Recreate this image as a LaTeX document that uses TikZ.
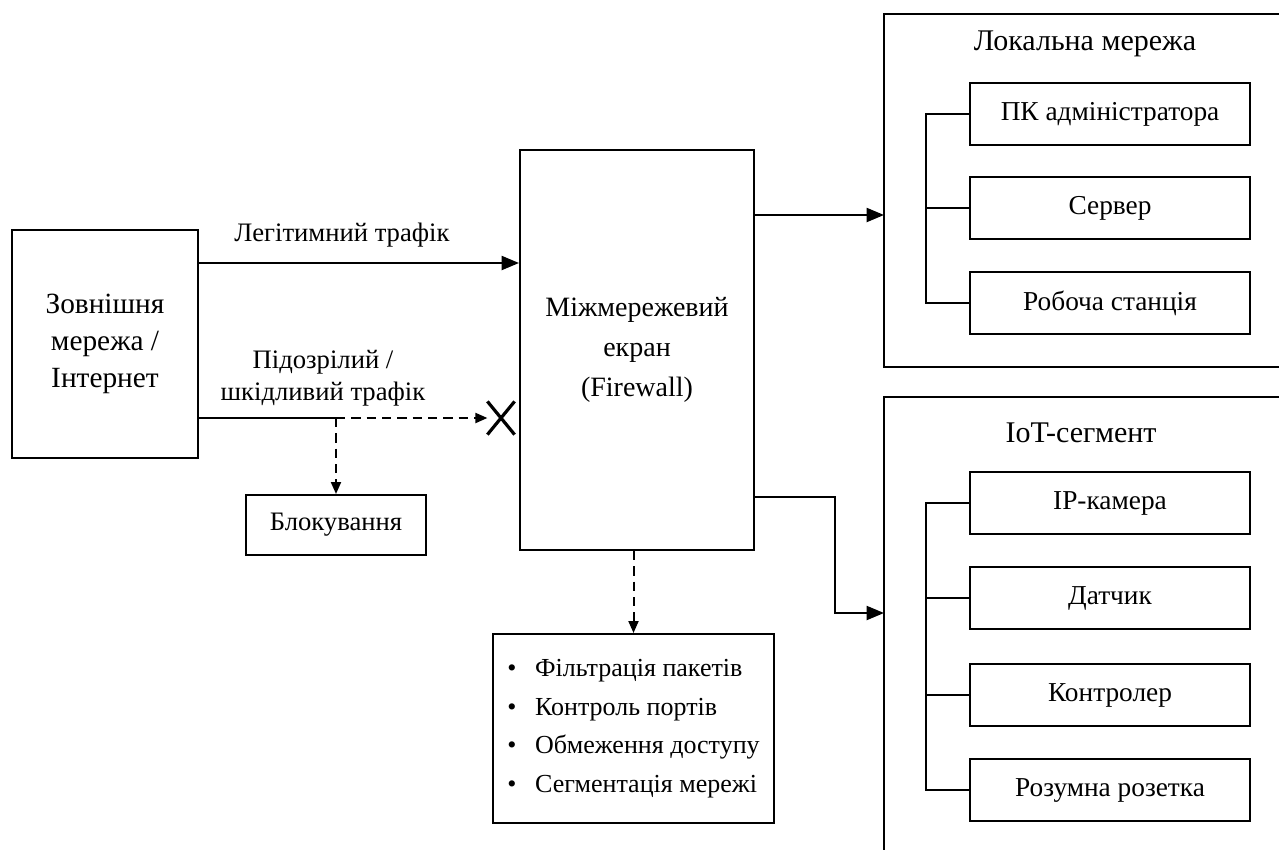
\documentclass[tikz,border=0pt]{standalone}
\usepackage{fontspec}
\setmainfont{Liberation Serif}
\usetikzlibrary{arrows.meta,shapes.misc}
\begin{document}
\begin{tikzpicture}[x=0.75pt,y=-0.75pt,
  line width=1.5pt,
  box/.style={draw,line width=1.5pt,inner sep=0pt,align=center},
  dev/.style={box,minimum width=280*0.75pt,minimum height=62*0.75pt,font=\fontsize{20.5}{24}\selectfont},
  arr/.style={-{Triangle[length=13pt,width=10.5pt]}},
  darr/.style={dash pattern=on 7pt off 4.5pt,-{Triangle[length=9pt,width=7.5pt]}},
  lbl/.style={inner sep=0pt,align=center,font=\fontsize{20}{24}\selectfont},
  ttl/.style={inner sep=0pt,align=center,font=\fontsize{22.5}{26}\selectfont}]
\useasboundingbox (0,0) rectangle (1279,850);
% main boxes
\node[box,minimum width=186*0.75pt,minimum height=228*0.75pt,font=\fontsize{22}{27.5}\selectfont] (ext) at (105,344) {Зовнішня\\мережа /\\Інтернет};
\node[box,minimum width=234*0.75pt,minimum height=400*0.75pt,font=\fontsize{21}{30}\selectfont] (fw) at (637,350) {Міжмережевий\\екран\\(Firewall)};
\node[box,minimum width=180*0.75pt,minimum height=60*0.75pt,font=\fontsize{20}{24}\selectfont] (block) at (336,525) {Блокування};
\node[box,minimum width=281*0.75pt,minimum height=189*0.75pt,align=left,font=\fontsize{19.5}{29}\selectfont] (list) at (633.5,728.5)
  {•\hspace{14pt}Фільтрація пакетів\\•\hspace{14pt}Контроль портів\\•\hspace{14pt}Обмеження доступу\\•\hspace{14pt}Сегментація мережі};
% labels
\node[lbl] (legitlbl) at (342,235) {Легітимний трафік};
\node[lbl] (suslbl) at (323,378) {Підозрілий /\\шкідливий трафік};
% cross
\node[cross out,draw,line width=2.4pt,minimum width=24*0.75pt,minimum height=30*0.75pt,inner sep=0pt] (xm) at (501,418) {};
% containers
\draw (1279,14) -- (884,14) -- (884,367) -- (1279,367);
\draw (1279,397) -- (884,397) -- (884,850);
\node[ttl] (lantitle) at (1085,44) {Локальна мережа};
\node[ttl] (iottitle) at (1081,433) {IoT-сегмент};
% devices
\node[dev] (pc) at (1110,114) {ПК адміністратора};
\node[dev] (srv) at (1110,208) {Сервер};
\node[dev] (ws) at (1110,303) {Робоча станція};
\node[dev] (cam) at (1110,503) {IP-камера};
\node[dev] (sens) at (1110,598) {Датчик};
\node[dev] (ctrl) at (1110,695) {Контролер};
\node[dev] (plug) at (1110,790) {Розумна розетка};
% trunks
\draw (pc.west) -- ++(-43,0) |- (ws.west);
\draw (srv.west) -- ++(-43,0);
\draw (cam.west) -- ++(-43,0) |- (plug.west);
\draw (sens.west) -- ++(-43,0);
\draw (ctrl.west) -- ++(-43,0);
% connectors
\coordinate (jn) at (336,418);
\coordinate (lanin) at (884,215);
\coordinate (iotin) at (884,613);
\coordinate (bend) at (835,497);
\draw[arr] (ext.east |- 0,263) -- (fw.west |- 0,263);
\draw (ext.east |- jn) -- (jn);
\draw[darr] (jn) -- (xm.west);
\draw[darr] (jn) -- (block.north);
\draw[darr] (fw.south -| list.north) -- (list.north);
\draw[arr] (fw.east |- lanin) -- (lanin);
\draw[arr] (fw.east |- bend) -- (bend) |- (iotin);
\end{tikzpicture}
\end{document}
